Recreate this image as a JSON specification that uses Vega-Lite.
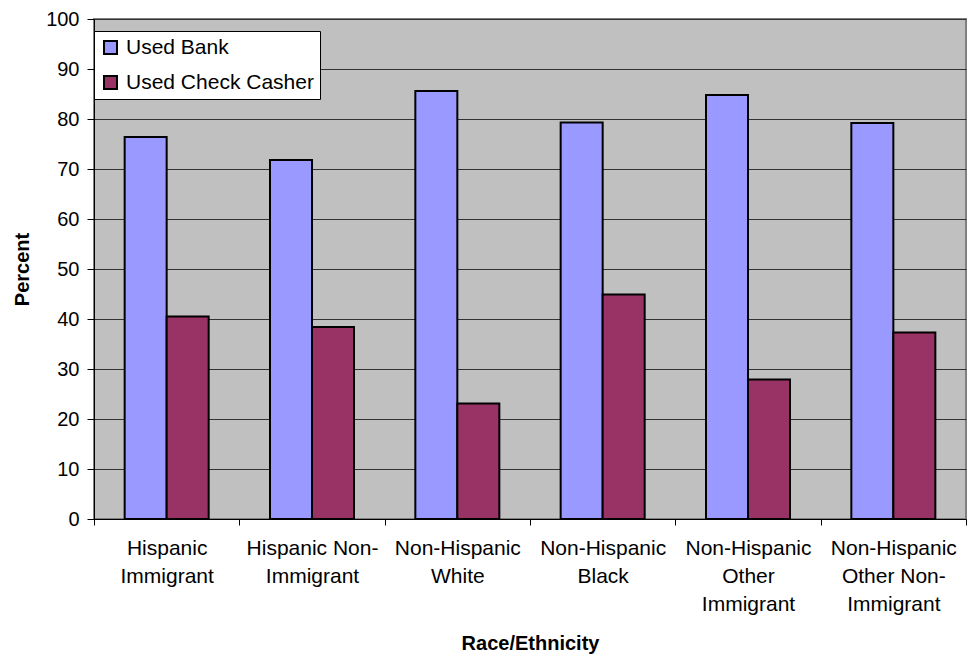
{
  "$schema": "https://vega.github.io/schema/vega-lite/v6.json",
  "autosize": "none",
  "width": 872,
  "height": 500,
  "padding": {"left": 94, "top": 19, "right": 1, "bottom": 135},
  "background": "white",
  "config": {
    "font": "Liberation Sans",
    "view": {"fill": "#C0C0C0", "stroke": "#808080", "strokeWidth": 2}
  },
  "data": {
    "values": [
      {"group": "Hispanic Immigrant", "service": "Used Bank", "percent": 76.4},
      {"group": "Hispanic Immigrant", "service": "Used Check Casher", "percent": 40.5},
      {"group": "Hispanic Non-Immigrant", "service": "Used Bank", "percent": 71.8},
      {"group": "Hispanic Non-Immigrant", "service": "Used Check Casher", "percent": 38.4},
      {"group": "Non-Hispanic White", "service": "Used Bank", "percent": 85.6},
      {"group": "Non-Hispanic White", "service": "Used Check Casher", "percent": 23.1},
      {"group": "Non-Hispanic Black", "service": "Used Bank", "percent": 79.3},
      {"group": "Non-Hispanic Black", "service": "Used Check Casher", "percent": 44.9},
      {"group": "Non-Hispanic Other Immigrant", "service": "Used Bank", "percent": 84.8},
      {"group": "Non-Hispanic Other Immigrant", "service": "Used Check Casher", "percent": 27.9},
      {"group": "Non-Hispanic Other Non-Immigrant", "service": "Used Bank", "percent": 79.2},
      {"group": "Non-Hispanic Other Non-Immigrant", "service": "Used Check Casher", "percent": 37.3}
    ]
  },
  "mark": {"type": "bar", "stroke": "black", "strokeWidth": 2},
  "encoding": {
    "x": {
      "field": "group",
      "type": "nominal",
      "sort": null,
      "scale": {"paddingInner": 0, "paddingOuter": 0},
      "axis": {
        "title": "Race/Ethnicity",
        "titleFont": "Liberation Sans",
        "titleFontSize": 20,
        "titleFontWeight": "bold",
        "titleColor": "black",
        "titlePadding": 19,
        "labelAngle": 0,
        "labelFontSize": 21,
        "labelColor": "black",
        "labelLineHeight": 28,
        "labelPadding": 12,
        "labelBaseline": "top",
        "tickBand": "extent",
        "tickSize": 6,
        "tickColor": "black",
        "domainColor": "black",
        "domainWidth": 1,
        "grid": false,
        "labelExpr": "{'Hispanic Immigrant':['Hispanic','Immigrant'],'Hispanic Non-Immigrant':['Hispanic Non-','Immigrant'],'Non-Hispanic White':['Non-Hispanic','White'],'Non-Hispanic Black':['Non-Hispanic','Black'],'Non-Hispanic Other Immigrant':['Non-Hispanic','Other','Immigrant'],'Non-Hispanic Other Non-Immigrant':['Non-Hispanic','Other Non-','Immigrant']}[datum.value]"
      }
    },
    "xOffset": {
      "field": "service",
      "type": "nominal",
      "scale": {"paddingInner": 0, "paddingOuter": 0.73}
    },
    "y": {
      "field": "percent",
      "type": "quantitative",
      "scale": {"domain": [0, 100], "nice": false},
      "axis": {
        "title": "Percent",
        "titleFontSize": 20,
        "titleFontWeight": "bold",
        "titleColor": "black",
        "titlePadding": 13,
        "values": [0, 10, 20, 30, 40, 50, 60, 70, 80, 90, 100],
        "labelFontSize": 20,
        "labelColor": "black",
        "labelPadding": 8,
        "tickSize": 7,
        "tickColor": "black",
        "domainColor": "black",
        "domainWidth": 1,
        "grid": true,
        "gridColor": "#333333",
        "gridWidth": 1
      }
    },
    "color": {
      "field": "service",
      "type": "nominal",
      "scale": {"domain": ["Used Bank", "Used Check Casher"], "range": ["#9999FF", "#993366"]},
      "legend": {
        "title": null,
        "orient": "none",
        "legendX": 0,
        "legendY": 12,
        "direction": "vertical",
        "fillColor": "white",
        "strokeColor": "black",
        "padding": 6,
        "rowPadding": 13,
        "symbolType": "square",
        "symbolSize": 169,
        "symbolStrokeColor": "black",
        "symbolStrokeWidth": 2,
        "symbolOpacity": 1,
        "labelFontSize": 21,
        "labelColor": "black",
        "labelOffset": 5,
        "labelLimit": 400
      }
    }
  }
}
